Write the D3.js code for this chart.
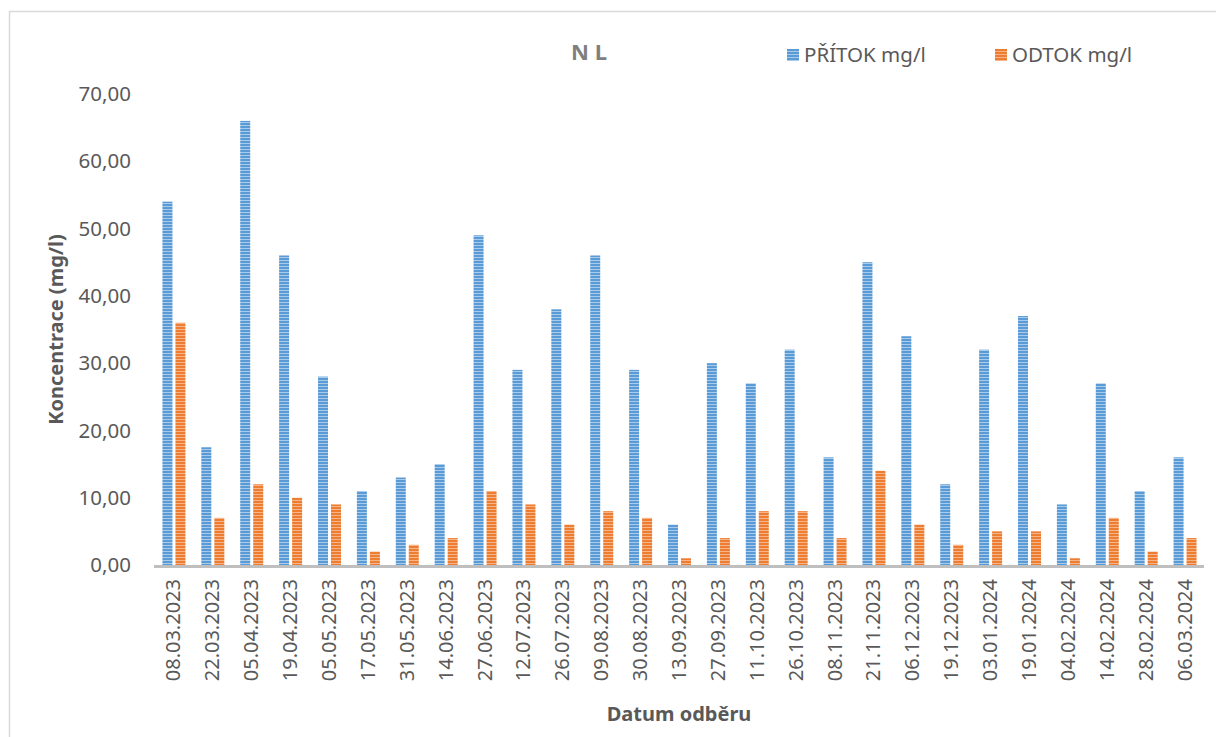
<!DOCTYPE html>
<html>
<head>
<meta charset="utf-8">
<script src="https://cdn.jsdelivr.net/npm/d3@7"></script>
<style>
  body { margin: 0; background: #fff; }
  text { font-family: "Noto Sans", "Open Sans", sans-serif; }
</style>
</head>
<body>
<div id="chart"></div>
<script>
// sampling dates (category axis)
const dates = [
  "08.03.2023", "22.03.2023", "05.04.2023", "19.04.2023", "05.05.2023",
  "17.05.2023", "31.05.2023", "14.06.2023", "27.06.2023", "12.07.2023",
  "26.07.2023", "09.08.2023", "30.08.2023", "13.09.2023", "27.09.2023",
  "11.10.2023", "26.10.2023", "08.11.2023", "21.11.2023", "06.12.2023",
  "19.12.2023", "03.01.2024", "19.01.2024", "04.02.2024", "14.02.2024",
  "28.02.2024", "06.03.2024"
];
// inflow (mg/l)
const pritok = [54, 17.5, 66, 46, 28, 11, 13, 15, 49, 29, 38, 46, 29, 6, 30, 27, 32, 16, 45, 34, 12, 32, 37, 9, 27, 11, 16];
// outflow (mg/l)
const odtok = [36, 7, 12, 10, 9, 2, 3, 4, 11, 9, 6, 8, 7, 1, 4, 8, 8, 4, 14, 6, 3, 5, 5, 1, 7, 2, 4];
const yTicks = [0, 10, 20, 30, 40, 50, 60, 70];
const seriesNames = ["PŘÍTOK mg/l", "ODTOK mg/l"];

const width = 1216, height = 737;
const margin = { top: 94, right: 12, bottom: 172, left: 154 };

const svg = d3.select("#chart").append("svg")
  .attr("width", width)
  .attr("height", height);

// striped fills
const defs = svg.append("defs");
function stripes(id, base, light) {
  const p = defs.append("pattern")
    .attr("id", id)
    .attr("patternUnits", "userSpaceOnUse")
    .attr("width", 6)
    .attr("height", 3);
  p.append("rect").attr("width", 6).attr("height", 3).attr("fill", base);
  p.append("rect").attr("y", 2).attr("width", 6).attr("height", 1).attr("fill", light);
}
stripes("blue-stripes", "#5B9BD5", "#A9CBEB");
stripes("orange-stripes", "#ED7D31", "#F6B48A");

// outer frame
svg.append("rect")
  .attr("x", 9.5).attr("y", 11.5)
  .attr("width", 1300).attr("height", 800)
  .attr("fill", "none")
  .attr("stroke", "#D9D9D9")
  .attr("stroke-width", 1.5);

const x = d3.scaleBand()
  .domain(dates)
  .range([margin.left, width - margin.right]);

const y = d3.scaleLinear()
  .domain([0, 70])
  .range([height - margin.bottom, margin.top]);

const barW = 10, gap = 3;

// y tick labels
svg.append("g")
  .selectAll("text")
  .data(yTicks)
  .join("text")
  .attr("x", 131)
  .attr("y", (d) => y(d))
  .attr("dy", "0.35em")
  .attr("text-anchor", "end")
  .attr("font-size", 20.5)
  .attr("fill", "#595959")
  .text((d) => d3.format(".2f")(d).replace(".", ","));

// bars
const groups = svg.append("g")
  .selectAll("g")
  .data(dates)
  .join("g")
  .attr("transform", (d) => `translate(${x(d) + x.bandwidth() / 2},0)`);

groups.append("rect")
  .attr("x", -barW - gap / 2 + 0.5)
  .attr("width", barW)
  .attr("y", (d, i) => y(pritok[i]))
  .attr("height", (d, i) => y(0) - y(pritok[i]))
  .attr("fill", "url(#blue-stripes)");

groups.append("rect")
  .attr("x", gap / 2 + 0.5)
  .attr("width", barW)
  .attr("y", (d, i) => y(odtok[i]))
  .attr("height", (d, i) => y(0) - y(odtok[i]))
  .attr("fill", "url(#orange-stripes)");

// x axis line
svg.append("line")
  .attr("x1", margin.left).attr("x2", width - margin.right)
  .attr("y1", y(0) + 1.5).attr("y2", y(0) + 1.5)
  .attr("stroke", "#BFBFBF")
  .attr("stroke-width", 3);

// date labels
groups.append("text")
  .attr("transform", `translate(7,${y(0) + 14}) rotate(-90)`)
  .attr("text-anchor", "end")
  .attr("font-size", 20)
  .attr("fill", "#595959")
  .text((d) => d);

// title
svg.append("text")
  .attr("x", 589).attr("y", 60)
  .attr("text-anchor", "middle")
  .attr("font-size", 22)
  .attr("font-weight", "bold")
  .attr("fill", "#7F7F7F")
  .text("N L");

// legend
const legend = svg.append("g")
  .selectAll("g")
  .data(seriesNames)
  .join("g")
  .attr("transform", (d, i) => `translate(${i === 0 ? 787 : 995},49)`);
legend.append("rect")
  .attr("width", 12).attr("height", 12)
  .attr("fill", (d, i) => i === 0 ? "url(#blue-stripes)" : "url(#orange-stripes)");
legend.append("text")
  .attr("x", 17).attr("y", 6)
  .attr("dy", "0.35em")
  .attr("font-size", 20.5)
  .attr("fill", "#595959")
  .text((d) => d);

// axis titles
svg.append("text")
  .attr("transform", `translate(63,${(margin.top + height - margin.bottom) / 2}) rotate(-90)`)
  .attr("text-anchor", "middle")
  .attr("font-size", 20)
  .attr("font-weight", "bold")
  .attr("fill", "#595959")
  .text("Koncentrace (mg/l)");

svg.append("text")
  .attr("x", 679).attr("y", 721)
  .attr("text-anchor", "middle")
  .attr("font-size", 20)
  .attr("font-weight", "bold")
  .attr("fill", "#595959")
  .text("Datum odběru");
</script>
</body>
</html>
